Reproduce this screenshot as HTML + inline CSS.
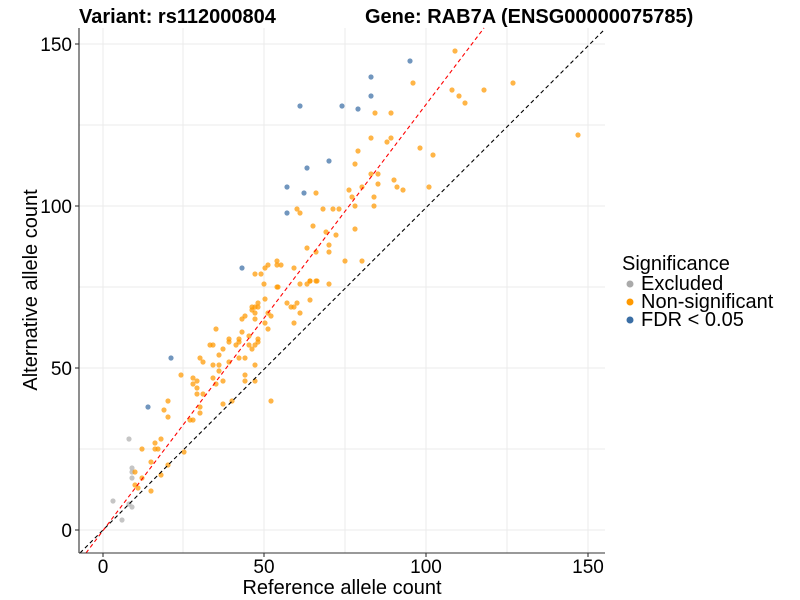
<!DOCTYPE html>
<html><head><meta charset="utf-8"><style>
html,body{margin:0;padding:0;background:#fff;width:800px;height:600px;overflow:hidden}
svg{display:block;font-family:"Liberation Sans",Arial,sans-serif}
</style></head><body>
<svg width="800" height="600" viewBox="0 0 800 600" xmlns="http://www.w3.org/2000/svg">
<rect width="800" height="600" fill="#fff"/>
<g stroke="#ebebeb" stroke-width="1">
<line x1="103" y1="28" x2="103" y2="553"/><line x1="183" y1="28" x2="183" y2="553"/><line x1="264" y1="28" x2="264" y2="553"/><line x1="345" y1="28" x2="345" y2="553"/><line x1="426" y1="28" x2="426" y2="553"/><line x1="507" y1="28" x2="507" y2="553"/><line x1="588" y1="28" x2="588" y2="553"/>
<line x1="79" y1="530" x2="605" y2="530"/><line x1="79" y1="449" x2="605" y2="449"/><line x1="79" y1="368" x2="605" y2="368"/><line x1="79" y1="287" x2="605" y2="287"/><line x1="79" y1="206" x2="605" y2="206"/><line x1="79" y1="125" x2="605" y2="125"/><line x1="79" y1="44" x2="605" y2="44"/>
</g>
<g id="pts">
<g fill="#bbbbbb" fill-opacity="0.85">
<circle cx="129" cy="439" r="2.6"/><circle cx="132" cy="468" r="2.6"/><circle cx="132" cy="472" r="2.6"/><circle cx="132" cy="478" r="2.6"/><circle cx="113" cy="501" r="2.6"/><circle cx="129" cy="504" r="2.6"/><circle cx="132" cy="507" r="2.6"/><circle cx="122" cy="520" r="2.6"/>
</g>
<g fill="#ff9900" fill-opacity="0.72">
<circle cx="264" cy="284" r="2.6"/><circle cx="278" cy="287" r="2.6"/><circle cx="300" cy="284" r="2.6"/><circle cx="307" cy="284" r="2.6"/><circle cx="310" cy="281" r="2.6"/><circle cx="317" cy="281" r="2.6"/><circle cx="329" cy="284" r="2.6"/><circle cx="265" cy="299" r="2.6"/><circle cx="255" cy="307" r="2.6"/><circle cx="258" cy="303" r="2.6"/><circle cx="258" cy="307" r="2.6"/><circle cx="252" cy="307" r="2.6"/><circle cx="252" cy="310" r="2.6"/><circle cx="287" cy="303" r="2.6"/><circle cx="291" cy="307" r="2.6"/><circle cx="294" cy="307" r="2.6"/><circle cx="297" cy="303" r="2.6"/><circle cx="310" cy="300" r="2.6"/><circle cx="300" cy="313" r="2.6"/><circle cx="255" cy="313" r="2.6"/><circle cx="245" cy="316" r="2.6"/><circle cx="242" cy="319" r="2.6"/><circle cx="268" cy="313" r="2.6"/><circle cx="271" cy="316" r="2.6"/><circle cx="265" cy="323" r="2.6"/><circle cx="255" cy="319" r="2.6"/><circle cx="294" cy="323" r="2.6"/><circle cx="268" cy="329" r="2.6"/><circle cx="216" cy="329" r="2.6"/><circle cx="242" cy="332" r="2.6"/><circle cx="249" cy="336" r="2.6"/><circle cx="229" cy="339" r="2.6"/><circle cx="239" cy="339" r="2.6"/><circle cx="258" cy="339" r="2.6"/><circle cx="229" cy="342" r="2.6"/><circle cx="239" cy="342" r="2.6"/><circle cx="258" cy="342" r="2.6"/><circle cx="210" cy="345" r="2.6"/><circle cx="213" cy="345" r="2.6"/><circle cx="236" cy="345" r="2.6"/><circle cx="249" cy="345" r="2.6"/><circle cx="255" cy="345" r="2.6"/><circle cx="252" cy="349" r="2.6"/><circle cx="223" cy="349" r="2.6"/><circle cx="219" cy="355" r="2.6"/><circle cx="200" cy="358" r="2.6"/><circle cx="203" cy="362" r="2.6"/><circle cx="239" cy="358" r="2.6"/><circle cx="245" cy="358" r="2.6"/><circle cx="213" cy="365" r="2.6"/><circle cx="219" cy="365" r="2.6"/><circle cx="229" cy="362" r="2.6"/><circle cx="255" cy="365" r="2.6"/><circle cx="219" cy="371" r="2.6"/><circle cx="181" cy="375" r="2.6"/><circle cx="245" cy="375" r="2.6"/><circle cx="193" cy="378" r="2.6"/><circle cx="197" cy="381" r="2.6"/><circle cx="213" cy="378" r="2.6"/><circle cx="245" cy="381" r="2.6"/><circle cx="255" cy="381" r="2.6"/><circle cx="223" cy="381" r="2.6"/><circle cx="193" cy="384" r="2.6"/><circle cx="216" cy="384" r="2.6"/><circle cx="197" cy="388" r="2.6"/><circle cx="197" cy="394" r="2.6"/><circle cx="203" cy="394" r="2.6"/><circle cx="168" cy="401" r="2.6"/><circle cx="271" cy="401" r="2.6"/><circle cx="232" cy="401" r="2.6"/><circle cx="223" cy="404" r="2.6"/><circle cx="200" cy="407" r="2.6"/><circle cx="164" cy="410" r="2.6"/><circle cx="200" cy="413" r="2.6"/><circle cx="168" cy="417" r="2.6"/><circle cx="190" cy="420" r="2.6"/><circle cx="193" cy="420" r="2.6"/><circle cx="161" cy="439" r="2.6"/><circle cx="155" cy="443" r="2.6"/><circle cx="142" cy="449" r="2.6"/><circle cx="155" cy="449" r="2.6"/><circle cx="158" cy="449" r="2.6"/><circle cx="184" cy="452" r="2.6"/><circle cx="151" cy="462" r="2.6"/><circle cx="168" cy="465" r="2.6"/><circle cx="135" cy="472" r="2.6"/><circle cx="161" cy="475" r="2.6"/><circle cx="142" cy="478" r="2.6"/><circle cx="135" cy="485" r="2.6"/><circle cx="138" cy="488" r="2.6"/><circle cx="151" cy="491" r="2.6"/>
<circle cx="455" cy="51" r="2.6"/><circle cx="413" cy="83" r="2.6"/><circle cx="452" cy="90" r="2.6"/><circle cx="484" cy="90" r="2.6"/><circle cx="513" cy="83" r="2.6"/><circle cx="459" cy="96" r="2.6"/><circle cx="465" cy="103" r="2.6"/><circle cx="375" cy="113" r="2.6"/><circle cx="391" cy="113" r="2.6"/><circle cx="371" cy="138" r="2.6"/><circle cx="387" cy="142" r="2.6"/><circle cx="391" cy="138" r="2.6"/><circle cx="420" cy="148" r="2.6"/><circle cx="433" cy="155" r="2.6"/><circle cx="358" cy="151" r="2.6"/><circle cx="355" cy="164" r="2.6"/><circle cx="371" cy="174" r="2.6"/><circle cx="378" cy="174" r="2.6"/><circle cx="378" cy="184" r="2.6"/><circle cx="394" cy="180" r="2.6"/><circle cx="397" cy="187" r="2.6"/><circle cx="403" cy="190" r="2.6"/><circle cx="429" cy="187" r="2.6"/><circle cx="349" cy="190" r="2.6"/><circle cx="352" cy="197" r="2.6"/><circle cx="362" cy="187" r="2.6"/><circle cx="374" cy="197" r="2.6"/><circle cx="355" cy="206" r="2.6"/><circle cx="374" cy="206" r="2.6"/><circle cx="316" cy="193" r="2.6"/><circle cx="297" cy="209" r="2.6"/><circle cx="300" cy="213" r="2.6"/><circle cx="323" cy="209" r="2.6"/><circle cx="333" cy="209" r="2.6"/><circle cx="339" cy="209" r="2.6"/><circle cx="313" cy="226" r="2.6"/><circle cx="326" cy="232" r="2.6"/><circle cx="336" cy="235" r="2.6"/><circle cx="355" cy="229" r="2.6"/><circle cx="329" cy="245" r="2.6"/><circle cx="307" cy="248" r="2.6"/><circle cx="316" cy="252" r="2.6"/><circle cx="329" cy="252" r="2.6"/><circle cx="345" cy="261" r="2.6"/><circle cx="362" cy="261" r="2.6"/><circle cx="277" cy="261" r="2.6"/><circle cx="277" cy="265" r="2.6"/><circle cx="281" cy="265" r="2.6"/><circle cx="268" cy="265" r="2.6"/><circle cx="265" cy="268" r="2.6"/><circle cx="294" cy="268" r="2.6"/><circle cx="255" cy="274" r="2.6"/><circle cx="261" cy="274" r="2.6"/><circle cx="277" cy="287" r="2.6"/><circle cx="310" cy="281" r="2.6"/><circle cx="316" cy="281" r="2.6"/><circle cx="578" cy="135" r="2.6"/>
</g>
<g fill="#3a6ea5" fill-opacity="0.72">
<circle cx="171" cy="358" r="2.6"/><circle cx="148" cy="407" r="2.6"/><circle cx="410" cy="61" r="2.6"/><circle cx="371" cy="77" r="2.6"/><circle cx="371" cy="96" r="2.6"/><circle cx="300" cy="106" r="2.6"/><circle cx="342" cy="106" r="2.6"/><circle cx="358" cy="109" r="2.6"/><circle cx="329" cy="161" r="2.6"/><circle cx="307" cy="168" r="2.6"/><circle cx="287" cy="187" r="2.6"/><circle cx="304" cy="193" r="2.6"/><circle cx="287" cy="213" r="2.6"/><circle cx="242" cy="268" r="2.6"/>
</g>
</g>
<line x1="80" y1="553" x2="605" y2="29" stroke="#000" stroke-width="1.1" stroke-dasharray="4,3"/>
<line x1="86" y1="553" x2="484" y2="28" stroke="#ff0000" stroke-width="1.1" stroke-dasharray="4,3"/>
<g stroke="#333" stroke-width="1.1">
<line x1="79" y1="28" x2="79" y2="553"/><line x1="79" y1="553" x2="605" y2="553"/>
<line x1="75" y1="530" x2="79" y2="530"/><line x1="75" y1="368" x2="79" y2="368"/><line x1="75" y1="206" x2="79" y2="206"/><line x1="75" y1="44" x2="79" y2="44"/>
<line x1="103" y1="553" x2="103" y2="557"/><line x1="264" y1="553" x2="264" y2="557"/><line x1="426" y1="553" x2="426" y2="557"/><line x1="588" y1="553" x2="588" y2="557"/>
</g>
<g font-size="19" fill="#000">
<text x="72" y="537" text-anchor="end">0</text><text x="72" y="375" text-anchor="end">50</text><text x="72" y="213" text-anchor="end">100</text><text x="72" y="51" text-anchor="end">150</text>
<text x="103" y="573" text-anchor="middle">0</text><text x="264" y="573" text-anchor="middle">50</text><text x="426" y="573" text-anchor="middle">100</text><text x="588" y="573" text-anchor="middle">150</text>
</g>
<g font-size="20" fill="#000">
<text x="342" y="594" text-anchor="middle">Reference allele count</text>
<text transform="translate(37,290) rotate(-90)" text-anchor="middle">Alternative allele count</text>
<text x="622" y="270">Significance</text>
<text x="641" y="290">Excluded</text><text x="641" y="308">Non-significant</text><text x="641" y="326">FDR &lt; 0.05</text>
</g>
<circle cx="630" cy="284" r="3.5" fill="#aaaaaa"/><circle cx="630" cy="302" r="3.5" fill="#ff9900"/><circle cx="630" cy="320" r="3.5" fill="#3a6ea5"/>
<g font-size="20" font-weight="bold" fill="#000">
<text x="79" y="23">Variant: rs112000804</text>
<text x="365" y="23">Gene: RAB7A (ENSG00000075785)</text>
</g>
</svg>
</body></html>
